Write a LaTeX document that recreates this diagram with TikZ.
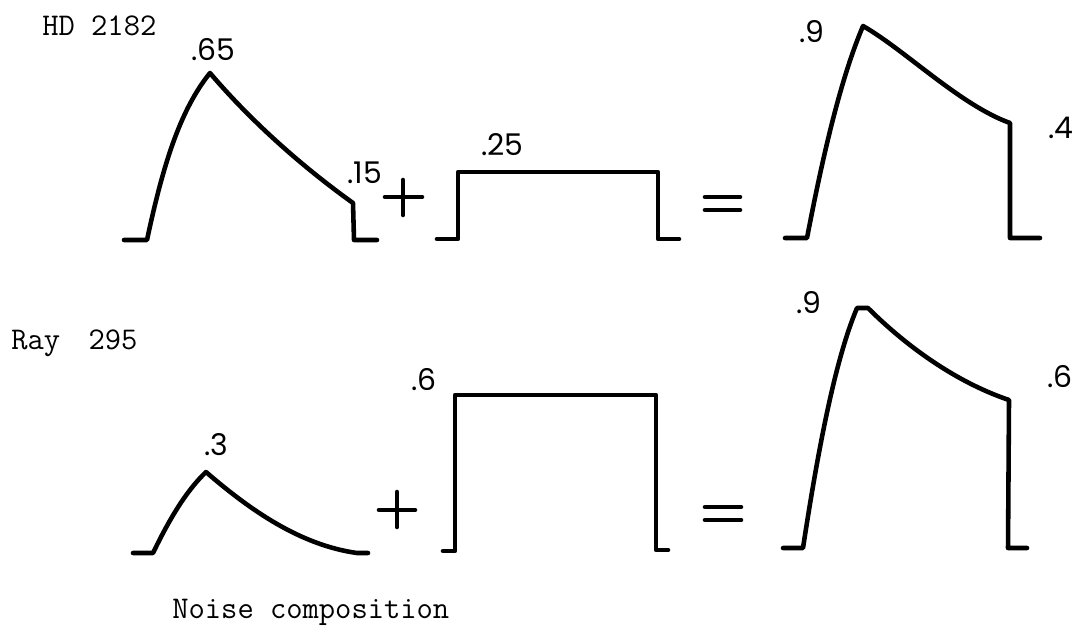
\documentclass[tikz,border=0pt]{standalone}
\usepackage{fontspec}
\usepackage{tikz}
\newfontfamily\handfont{Poppins}
\tikzset{
  wave/.style={line width=2.6pt, line join=round, line cap=round},
  sign/.style={line width=2.6pt, line cap=round},
  tw/.style={font=\fontsize{18}{20}\selectfont\ttfamily,
    inner sep=0pt, anchor=west},
  val/.style={font=\handfont\fontsize{17}{20}\selectfont,
    inner sep=0pt, anchor=west},
}

\begin{document}
\begin{tikzpicture}[x=0.02cm, y=-0.02cm]

  \useasboundingbox (0,0) rectangle (1077,630);

  % row labels
  \node[tw] (hd)  at (42,26)   {HD 2182};
  \node[tw] (ray) at (11,343)  {Ray\hspace{0.9em}295};
  \node[tw] (cap) at (172,612) {Noise composition};

  % top row: pulse + step = sum
  \draw[wave] (124,240) -- (147,240)
    .. controls (163,165) and (180,110) .. (210,73)
    .. controls (250,120) and (300,165) .. (353,203)
    -- (354,240) -- (377,240);
  \draw[sign] (385,197) -- (422,197) (403,180) -- (403,215);
  \draw[wave] (437,239) -- (458,239) -- (458,172)
    -- (658,172) -- (658,239) -- (679,239);
  \draw[sign] (705,197) -- (740,197) (705,210) -- (740,210);
  \draw[wave] (785,238) -- (807,238)
    .. controls (822,160) and (840,80) .. (863,26)
    .. controls (905,50) and (960,105) .. (1010,123)
    -- (1010,238) -- (1040,238);

  \node[val] (topPeak)  at (191,50)  {.65};
  \node[val] (topTail)  at (347,173) {.15};
  \node[val] (topStep)  at (481,145) {.25};
  \node[val] (topSum)   at (799,32)  {.9};
  \node[val] (topEnd)   at (1048,128) {.4};

  % bottom row: pulse + step = sum
  \draw[wave] (133,553) -- (153,553)
    .. controls (168,522) and (185,492) .. (206,472)
    .. controls (250,510) and (300,545) .. (357,553)
    -- (368,553);
  \draw[sign] (379,510) -- (415,510) (397,492) -- (397,527);
  \draw[wave] (443,551) -- (455,551) -- (455,395)
    -- (656,395) -- (656,550) -- (668,550);
  \draw[sign] (705,507) -- (741,507) (705,520) -- (741,520);
  \draw[wave] (783,548) -- (803,548)
    .. controls (818,450) and (835,360) .. (857,308) -- (868,308)
    .. controls (900,340) and (950,380) .. (1009,400)
    -- (1008,548) -- (1027,548);

  \node[val] (botPeak)  at (204,445) {.3};
  \node[val] (botStep)  at (411,380) {.6};
  \node[val] (botSum)   at (796,303) {.9};
  \node[val] (botEnd)   at (1047,377) {.6};

\end{tikzpicture}
\end{document}
